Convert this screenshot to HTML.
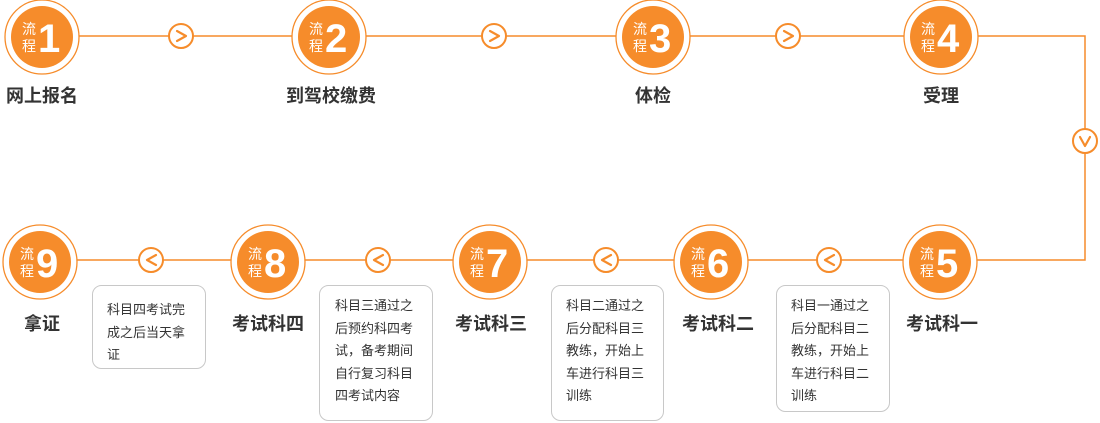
<!DOCTYPE html>
<html><head><meta charset="utf-8"><style>
html,body{margin:0;padding:0;background:#fff;}
svg{display:block;font-family:"Liberation Sans","Noto Sans CJK SC",sans-serif;}
.lbl{font-size:18px;font-weight:bold;fill:#333;text-anchor:middle;}
.bt{font-size:13px;fill:#333;}
.lc{font-size:14px;fill:#fff;}
.num{font-size:40px;font-weight:bold;fill:#fff;}
</style></head><body>
<svg width="1100" height="423" viewBox="0 0 1100 423">
<g fill="none" stroke="#f68c2b" stroke-width="1.5">
<polyline points="42,36 1085,36 1085,260 42,260"/>
</g>
<g fill="#fff" stroke="#f68c2b" stroke-width="2">
<circle cx="181" cy="36" r="12"/><circle cx="494" cy="36" r="12"/><circle cx="788" cy="36" r="12"/>
<circle cx="1085" cy="141" r="12"/>
<circle cx="829" cy="260" r="12"/><circle cx="606" cy="260" r="12"/><circle cx="378" cy="260" r="12"/><circle cx="151" cy="260" r="12"/>
</g>
<g fill="none" stroke="#f68c2b" stroke-width="2.2" stroke-linecap="round" stroke-linejoin="round">
<polyline points="177,31 186,36 177,41"/><polyline points="490,31 499,36 490,41"/><polyline points="784,31 793,36 784,41"/>
<polyline points="1080,137 1085,146 1090,137"/>
<polyline points="834,255 825,260 834,265"/><polyline points="611,255 602,260 611,265"/><polyline points="383,255 374,260 383,265"/><polyline points="156,255 147,260 156,265"/>
</g>
<g stroke="#f68c2b" stroke-width="1.3" fill="#fff">
<circle cx="42" cy="37" r="37"/><circle cx="329" cy="37" r="37"/><circle cx="653" cy="37" r="37"/><circle cx="941" cy="37" r="37"/>
<circle cx="940" cy="262" r="37"/><circle cx="711" cy="262" r="37"/><circle cx="490" cy="262" r="37"/><circle cx="268" cy="262" r="37"/><circle cx="40" cy="262" r="37"/>
</g>
<g fill="#f68c2b">
<circle cx="42" cy="37" r="31"/><circle cx="329" cy="37" r="31"/><circle cx="653" cy="37" r="31"/><circle cx="941" cy="37" r="31"/>
<circle cx="940" cy="262" r="31"/><circle cx="711" cy="262" r="31"/><circle cx="490" cy="262" r="31"/><circle cx="268" cy="262" r="31"/><circle cx="40" cy="262" r="31"/>
</g>
<g>
<text class="lc" x="22" y="34">流</text><text class="lc" x="22" y="51">程</text><text class="num" x="38" y="52">1</text>
<text class="lc" x="309" y="34">流</text><text class="lc" x="309" y="51">程</text><text class="num" x="325" y="52">2</text>
<text class="lc" x="633" y="34">流</text><text class="lc" x="633" y="51">程</text><text class="num" x="649" y="52">3</text>
<text class="lc" x="921" y="34">流</text><text class="lc" x="921" y="51">程</text><text class="num" x="937" y="52">4</text>
<text class="lc" x="920" y="259">流</text><text class="lc" x="920" y="276">程</text><text class="num" x="936" y="277">5</text>
<text class="lc" x="691" y="259">流</text><text class="lc" x="691" y="276">程</text><text class="num" x="707" y="277">6</text>
<text class="lc" x="470" y="259">流</text><text class="lc" x="470" y="276">程</text><text class="num" x="486" y="277">7</text>
<text class="lc" x="248" y="259">流</text><text class="lc" x="248" y="276">程</text><text class="num" x="264" y="277">8</text>
<text class="lc" x="20" y="259">流</text><text class="lc" x="20" y="276">程</text><text class="num" x="36" y="277">9</text>
</g>
<g>
<text class="lbl" x="42" y="102">网上报名</text>
<text class="lbl" x="331" y="102">到驾校缴费</text>
<text class="lbl" x="653" y="102">体检</text>
<text class="lbl" x="941" y="102">受理</text>
<text class="lbl" x="942" y="330">考试科一</text>
<text class="lbl" x="718" y="330">考试科二</text>
<text class="lbl" x="491" y="330">考试科三</text>
<text class="lbl" x="268" y="330">考试科四</text>
<text class="lbl" x="42" y="330">拿证</text>
</g>
<g fill="#fff" stroke="#c8c8c8" stroke-width="1">
<rect x="776.5" y="285.5" width="113" height="126" rx="9"/>
<rect x="551.5" y="285.5" width="112" height="135" rx="9"/>
<rect x="319.5" y="285.5" width="113" height="135" rx="9"/>
<rect x="92.5" y="285.5" width="113" height="83" rx="9"/>
</g>
<g>
<text class="bt" x="791" y="310">科目一通过之</text><text class="bt" x="791" y="333">后分配科目二</text><text class="bt" x="791" y="355">教练，开始上</text><text class="bt" x="791" y="378">车进行科目二</text><text class="bt" x="791" y="400">训练</text>
<text class="bt" x="566" y="310">科目二通过之</text><text class="bt" x="566" y="333">后分配科目三</text><text class="bt" x="566" y="355">教练，开始上</text><text class="bt" x="566" y="378">车进行科目三</text><text class="bt" x="566" y="400">训练</text>
<text class="bt" x="335" y="310">科目三通过之</text><text class="bt" x="335" y="333">后预约科四考</text><text class="bt" x="335" y="355">试，备考期间</text><text class="bt" x="335" y="378">自行复习科目</text><text class="bt" x="335" y="400">四考试内容</text>
<text class="bt" x="107" y="314">科目四考试完</text><text class="bt" x="107" y="337">成之后当天拿</text><text class="bt" x="107" y="359">证</text>
</g>
</svg>
</body></html>
